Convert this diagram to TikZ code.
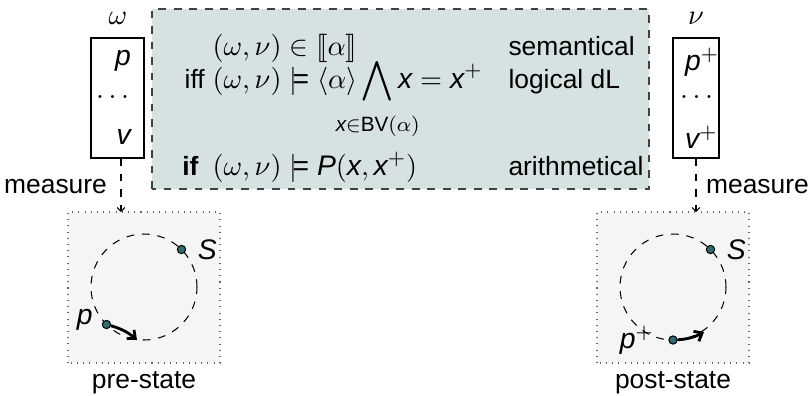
\documentclass[tikz,border=0pt]{standalone}
\usepackage{amsmath,amssymb,mathtools}
\usepackage{stmaryrd}
\usepackage{fontspec}
\setmainfont{Liberation Sans}
\usetikzlibrary{arrows.meta, positioning}
\definecolor{boxfill}{HTML}{D6E1E1}
\definecolor{statefill}{HTML}{F5F5F5}
\definecolor{dotfill}{HTML}{2F6B73}
\newcommand{\sv}[1]{\mathit{#1}}

\begin{document}
\begin{tikzpicture}[x=0.3866pt, y=0.3866pt, thin,
    every node/.style={font=\fontsize{10.95}{13}\selectfont},
    dot/.style={circle, draw=black, fill=dotfill, inner sep=0pt, minimum size=3.2pt},
    ring/.style={dashed, black},
    move/.style={-{Straight Barb[length=2.6pt,width=4.4pt]}, line width=1.1pt},
    measure/.style={dashed, -{Straight Barb[length=1.5pt,width=3pt]}},
    row/.style={anchor=base west, inner sep=0pt},
    word/.style={font=\fontsize{10.2}{12}\selectfont}]
    \useasboundingbox (0,0) rectangle (811,395);
    % the three ways of reading a step
    \draw[black!75, dashed, fill=boxfill] (152,206) rectangle (649,386);
    \node[row] (sem) at (212,340) {$(\omega,\nu)\in\llbracket\alpha\rrbracket$};
    \node[row] (log) at (212,307) {$(\omega,\nu)\models\langle\alpha\rangle\displaystyle\bigwedge_{\mathclap{\rule{0pt}{9pt}\sv{x}\in\mathrm{BV}(\alpha)}}\sv{x}=\sv{x}^+$};
    \node[row] (ari) at (212,220) {$(\omega,\nu)\models\sv{P}(\sv{x},\sv{x}^+)$};
    \node[anchor=base east, inner sep=0pt, word] (iff) at ([xshift=-2.6pt]log.base west) {iff};
    \node[anchor=base east, inner sep=0pt, word] (if) at ([xshift=-5pt]ari.base west) {\textbf{if}};
    \node[row, word] (semlbl) at (508,340) {semantical};
    \node[row, word] (loglbl) at (508,307) {logical dL};
    \node[row, word] (arilbl) at (508,220) {arithmetical};
    % the two states
    \draw (91,237) rectangle (144,357);
    \node (omega) at (118,377) {$\omega$};
    \node[anchor=east] (wp) at (140,334) {$\sv{p}$};
    \node (wdots) at (115,298) {$\dots$};
    \node[anchor=east] (wv) at (140,258) {$\sv{v}$};
    \draw (673,237) rectangle (719,357);
    \node (nu) at (696,377) {$\nu$};
    \node[anchor=west] (np) at (676,333) {$\sv{p}^+$};
    \node (ndots) at (699,298) {$\dots$};
    \node[anchor=west] (nv) at (676,258) {$\sv{v}^+$};
    % measuring them
    \coordinate (mtopL) at (121,237);
    \coordinate (mbotL) at (121,183);
    \coordinate (mtopR) at (696,237);
    \coordinate (mbotR) at (696,183);
    \draw[measure] (mtopL) -- (mbotL);
    \draw[measure] (mtopR) -- (mbotR);
    \node[anchor=east, word] (measL) at (116,208) {measure};
    \node[anchor=west, word] (measR) at (697,208) {measure};
    % pre-state
    \draw[black!60, dotted, fill=statefill] (68,32) rectangle (220,183);
    \coordinate (prec) at (144,108);
    \draw[ring] (prec) circle[radius=53];
    \node[dot] (preS) at (181.5,145.5) {};
    \node[dot] (preP) at (106.5,70.5) {};
    \coordinate (preE) at (137,55);
    \node[right=1pt of preS] (preSl) {$\sv{S}$};
    \node[anchor=east] (prePl) at ([yshift=2pt]preP.west) {$\sv{p}$};
    \draw[move] (preP) to[bend left=12] (preE);
    \node[word] (prelbl) at (144,12) {pre-state};
    % post-state
    \draw[black!60, dotted, fill=statefill] (597,32) rectangle (749,183);
    \coordinate (postc) at (673,108);
    \draw[ring] (postc) circle[radius=53];
    \node[dot] (postS) at (710.5,145.5) {};
    \node[dot] (postP) at (673,55) {};
    \coordinate (postE) at (704,63);
    \node[right=1pt of postS] (postSl) {$\sv{S}$};
    \node[anchor=east] (postPl) at ([xshift=-2pt]postP.west) {$\sv{p}^+$};
    \draw[move] (postP) to[bend right=12] (postE);
    \node[word] (postlbl) at (673,12) {post-state};
\end{tikzpicture}
\end{document}
